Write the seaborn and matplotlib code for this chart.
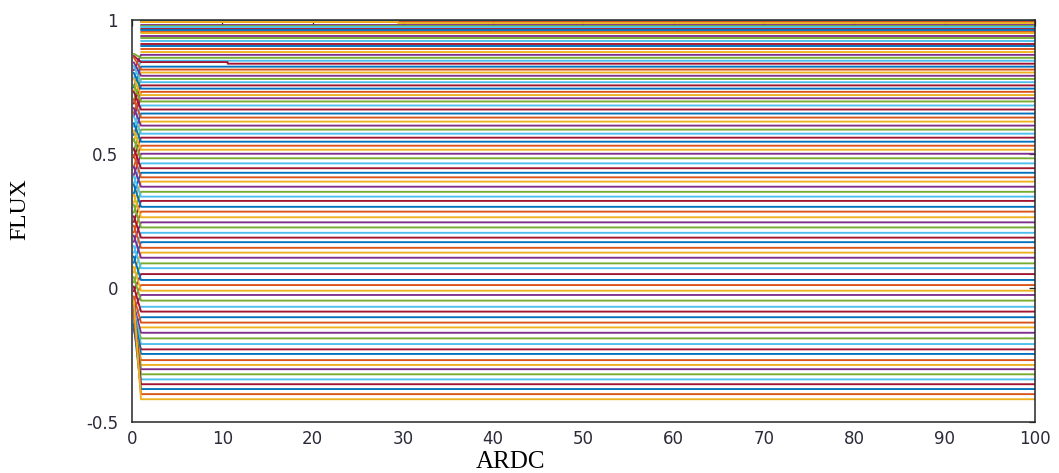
import matplotlib
matplotlib.use("Agg")
import matplotlib.pyplot as plt
import pandas as pd
import seaborn as sns

# Settled FLUX level of every trajectory (top to bottom, in plotting order)
final_flux = [
    0.996, 0.991, 0.987, 0.983, 0.978, 0.973, 0.968, 0.963, 0.957, 0.951,
    0.942, 0.932, 0.922, 0.912, 0.902, 0.892, 0.881,
    0.870, 0.859, 0.848, 0.837, 0.826, 0.815, 0.804, 0.792, 0.780, 0.768,
    0.756, 0.744, 0.732, 0.720, 0.708, 0.696,
    0.681, 0.666, 0.651, 0.636, 0.621, 0.606, 0.591, 0.576, 0.561, 0.546,
    0.531, 0.516, 0.501,
    0.484, 0.465, 0.447, 0.430, 0.413, 0.397,
    0.378, 0.359, 0.341, 0.325, 0.303, 0.285, 0.264, 0.245, 0.226, 0.206,
    0.188, 0.171, 0.150, 0.132, 0.113, 0.092, 0.074,
    0.052, 0.030, 0.011, -0.010, -0.026, -0.047, -0.070, -0.088, -0.109,
    -0.129, -0.147, -0.167, -0.188, -0.209, -0.229, -0.246,
    -0.269, -0.287, -0.303, -0.322, -0.341, -0.359, -0.377, -0.396, -0.415,
]

# Initial FLUX value before the first step (None: trajectory starts settled)
start_flux = [
    None, None, None, None, None, None, None, None, None, None,
    None, None, None, None, None, None, None,
    0.812, 0.874, 0.781, 0.866, 0.748, 0.861, 0.735, 0.842, 0.701, 0.829,
    0.688, 0.803, 0.652, 0.781, 0.640, 0.758,
    0.602, 0.733, 0.571, 0.704, 0.548, 0.672, 0.513, 0.641, 0.487, 0.615,
    0.452, 0.588, 0.421,
    0.556, 0.389, 0.521, 0.352, 0.497, 0.318,
    0.452, 0.281, 0.417, 0.246, 0.386, 0.207, 0.348, 0.172, 0.311, 0.131,
    0.268, 0.094, 0.233, 0.058, 0.196, 0.021, 0.157,
    -0.012, 0.118, -0.048, 0.079, -0.081, 0.041, -0.112, 0.006, -0.139,
    -0.031, -0.158, -0.062, -0.094, -0.071, -0.123, -0.088,
    -0.141, -0.106, -0.152, -0.077, -0.119, -0.063, -0.134, -0.092, -0.048,
]

# Trajectories that hold an earlier level until a later ARDC step
break_series = [2, 20]
break_ardc = [29.5, 10.6]
break_level = [0.994, 0.843]

start_ardc = 0.2
first_ardc = 1.0
last_ardc = 100.0

matlab_colors = ["#0072BD", "#D95319", "#EDB120", "#7E2F8E",
                 "#77AC30", "#4DBEEE", "#A2142F"]

rows = []
for i, f in enumerate(final_flux):
    name = f"s{i:02d}"
    pts = []
    if start_flux[i] is not None:
        pts.append((start_ardc, start_flux[i]))
    if i in break_series:
        k = break_series.index(i)
        pts += [(first_ardc, break_level[k]), (break_ardc[k], break_level[k]),
                (break_ardc[k], f)]
    else:
        pts.append((first_ardc, f))
    pts.append((last_ardc, f))
    for order, (x, y) in enumerate(pts):
        rows.append({"series": name, "order": order, "ARDC": x, "FLUX": y})

df = pd.DataFrame(rows)
names = [f"s{i:02d}" for i in range(len(final_flux))]
palette = {n: matlab_colors[i % len(matlab_colors)] for i, n in enumerate(names)}

sns.set_theme(style="white")
plt.rcParams["font.family"] = ["DejaVu Sans"]

fig = plt.figure(figsize=(10.59, 4.73), dpi=100)
ax = fig.add_axes([0.1246, 0.1078, 0.8527, 0.8499])

sns.lineplot(data=df, x="ARDC", y="FLUX", hue="series", hue_order=names,
             palette=palette, estimator=None, sort=False, legend=False,
             linewidth=1.35, ax=ax)

ax.set_xlim(0, 100)
ax.set_ylim(-0.5, 1)
ax.set_xticks(range(0, 101, 10))
ax.set_yticks([-0.5, 0, 0.5, 1])
ax.set_yticklabels(["-0.5", "0", "0.5", "1"])

axis_color = "#262626"
for sp in ax.spines.values():
    sp.set_visible(True)
    sp.set_color(axis_color)
    sp.set_linewidth(1.1)
ax.tick_params(direction="in", length=4, width=0.9, top=True, right=True,
               colors=axis_color, labelsize=12)
ax.tick_params(axis="y", pad=10)
ax.tick_params(axis="x", pad=6)
for lab in ax.get_xticklabels() + ax.get_yticklabels():
    lab.set_color("#2a2a3a")

label_font = ["Liberation Serif", "DejaVu Serif"]
ax.set_xlabel("ARDC", family=label_font, fontsize=18, color="black")
ax.set_ylabel("FLUX", family=label_font, fontsize=17, color="black")
ax.xaxis.set_label_coords(0.419, -0.072)
ax.yaxis.set_label_coords(-0.112, 0.53)

fig.savefig("out.png", dpi=100)
